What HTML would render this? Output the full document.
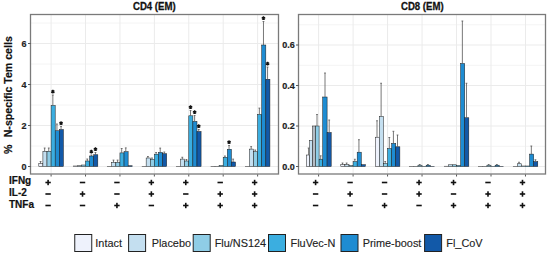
<!DOCTYPE html>
<html><head><meta charset="utf-8"><style>
html,body{margin:0;padding:0;background:#fff;}
body{width:550px;height:256px;overflow:hidden;}
svg{display:block;}
text{font-family:"Liberation Sans",sans-serif;}
.g{stroke:#EBEBEB;stroke-width:1;}
.gm{stroke:#F4F4F4;stroke-width:1;}
.b{stroke:#1a1a1a;stroke-width:0.5;}
.e{stroke:#555;stroke-width:0.8;}
.fr{fill:none;stroke:#7a7a7a;stroke-width:1.3;}
.tk{stroke:#444;stroke-width:0.9;}
.stp{stroke:#111;stroke-width:1.3;fill:none;}
.ti{font-size:9.6px;font-weight:bold;fill:#111;stroke:#111;stroke-width:0.25;}
.tl{font-size:9px;font-weight:bold;fill:#222;stroke:#222;stroke-width:0.2;}
.yt{font-size:10.6px;font-weight:bold;fill:#111;stroke:#111;stroke-width:0.2;}
.rl{font-size:10px;font-weight:bold;fill:#111;stroke:#111;stroke-width:0.2;}
.sg{fill:#111;}
.lk{stroke:#222;stroke-width:1;}
.lg{font-size:10.9px;fill:#222;stroke:#222;stroke-width:0.12;}
</style></head><body>
<svg width="550" height="256" viewBox="0 0 550 256">
<rect x="30" y="14" width="249" height="159.5" fill="#fff"/>
<line x1="30" y1="146.0" x2="279" y2="146.0" class="gm"/>
<line x1="30" y1="105.0" x2="279" y2="105.0" class="gm"/>
<line x1="30" y1="64.0" x2="279" y2="64.0" class="gm"/>
<line x1="30" y1="23.0" x2="279" y2="23.0" class="gm"/>
<line x1="30" y1="166.5" x2="279" y2="166.5" class="g"/>
<line x1="30" y1="125.5" x2="279" y2="125.5" class="g"/>
<line x1="30" y1="84.5" x2="279" y2="84.5" class="g"/>
<line x1="30" y1="43.5" x2="279" y2="43.5" class="g"/>
<line x1="51.10" y1="14" x2="51.10" y2="173.5" class="g"/>
<line x1="85.52" y1="14" x2="85.52" y2="173.5" class="g"/>
<line x1="119.94" y1="14" x2="119.94" y2="173.5" class="g"/>
<line x1="154.36" y1="14" x2="154.36" y2="173.5" class="g"/>
<line x1="188.78" y1="14" x2="188.78" y2="173.5" class="g"/>
<line x1="223.20" y1="14" x2="223.20" y2="173.5" class="g"/>
<line x1="257.62" y1="14" x2="257.62" y2="173.5" class="g"/>
<rect x="298" y="14" width="248" height="159.5" fill="#fff"/>
<line x1="298" y1="146.25" x2="546" y2="146.25" class="gm"/>
<line x1="298" y1="105.75" x2="546" y2="105.75" class="gm"/>
<line x1="298" y1="65.25" x2="546" y2="65.25" class="gm"/>
<line x1="298" y1="24.75" x2="546" y2="24.75" class="gm"/>
<line x1="298" y1="166.5" x2="546" y2="166.5" class="g"/>
<line x1="298" y1="126.0" x2="546" y2="126.0" class="g"/>
<line x1="298" y1="85.5" x2="546" y2="85.5" class="g"/>
<line x1="298" y1="45.0" x2="546" y2="45.0" class="g"/>
<line x1="318.60" y1="14" x2="318.60" y2="173.5" class="g"/>
<line x1="353.08" y1="14" x2="353.08" y2="173.5" class="g"/>
<line x1="387.56" y1="14" x2="387.56" y2="173.5" class="g"/>
<line x1="422.04" y1="14" x2="422.04" y2="173.5" class="g"/>
<line x1="456.52" y1="14" x2="456.52" y2="173.5" class="g"/>
<line x1="491.00" y1="14" x2="491.00" y2="173.5" class="g"/>
<line x1="525.48" y1="14" x2="525.48" y2="173.5" class="g"/>
<rect x="38.80" y="163.50" width="4.10" height="3.00" fill="#EEF2FC" class="b"/>
<rect x="42.90" y="151.25" width="4.10" height="15.25" fill="#C4DFF0" class="b"/>
<rect x="47.00" y="151.25" width="4.10" height="15.25" fill="#8FCDE6" class="b"/>
<rect x="51.10" y="105.50" width="4.10" height="61.00" fill="#3BAEE0" class="b"/>
<rect x="55.20" y="130.75" width="4.10" height="35.75" fill="#1E8CD2" class="b"/>
<rect x="59.30" y="129.50" width="4.10" height="37.00" fill="#1259A8" class="b"/>
<line x1="40.55" y1="163.50" x2="40.55" y2="161.50" class="e"/>
<line x1="39.65" y1="161.50" x2="41.45" y2="161.50" class="e"/>
<line x1="44.65" y1="151.25" x2="44.65" y2="148.00" class="e"/>
<line x1="43.75" y1="148.00" x2="45.55" y2="148.00" class="e"/>
<line x1="48.75" y1="151.25" x2="48.75" y2="148.00" class="e"/>
<line x1="47.85" y1="148.00" x2="49.65" y2="148.00" class="e"/>
<line x1="52.85" y1="105.50" x2="52.85" y2="95.00" class="e"/>
<line x1="51.95" y1="95.00" x2="53.75" y2="95.00" class="e"/>
<path d="M52.85 89.80L52.85 93.60M51.20 90.75L54.50 92.65M54.50 90.75L51.20 92.65" class="stp"/>
<line x1="56.95" y1="130.75" x2="56.95" y2="124.00" class="e"/>
<line x1="56.05" y1="124.00" x2="57.85" y2="124.00" class="e"/>
<line x1="61.05" y1="129.50" x2="61.05" y2="126.50" class="e"/>
<line x1="60.15" y1="126.50" x2="61.95" y2="126.50" class="e"/>
<path d="M61.05 121.30L61.05 125.10M59.40 122.25L62.70 124.15M62.70 122.25L59.40 124.15" class="stp"/>
<rect x="73.22" y="166.00" width="4.10" height="0.50" fill="#EEF2FC" class="b"/>
<rect x="77.32" y="165.75" width="4.10" height="0.75" fill="#C4DFF0" class="b"/>
<rect x="81.42" y="165.00" width="4.10" height="1.50" fill="#8FCDE6" class="b"/>
<rect x="85.52" y="161.00" width="4.10" height="5.50" fill="#3BAEE0" class="b"/>
<rect x="89.62" y="156.00" width="4.10" height="10.50" fill="#1E8CD2" class="b"/>
<rect x="93.72" y="154.75" width="4.10" height="11.75" fill="#1259A8" class="b"/>
<line x1="87.27" y1="161.00" x2="87.27" y2="159.00" class="e"/>
<line x1="86.37" y1="159.00" x2="88.17" y2="159.00" class="e"/>
<line x1="91.37" y1="156.00" x2="91.37" y2="155.00" class="e"/>
<line x1="90.47" y1="155.00" x2="92.27" y2="155.00" class="e"/>
<path d="M91.37 149.80L91.37 153.60M89.72 150.75L93.02 152.65M93.02 150.75L89.72 152.65" class="stp"/>
<line x1="95.47" y1="154.75" x2="95.47" y2="152.50" class="e"/>
<line x1="94.57" y1="152.50" x2="96.37" y2="152.50" class="e"/>
<path d="M95.47 147.30L95.47 151.10M93.82 148.25L97.12 150.15M97.12 148.25L93.82 150.15" class="stp"/>
<rect x="107.64" y="166.30" width="4.10" height="0.20" fill="#EEF2FC" class="b"/>
<rect x="111.74" y="162.40" width="4.10" height="4.10" fill="#C4DFF0" class="b"/>
<rect x="115.84" y="162.40" width="4.10" height="4.10" fill="#8FCDE6" class="b"/>
<rect x="119.94" y="152.90" width="4.10" height="13.60" fill="#3BAEE0" class="b"/>
<rect x="124.04" y="151.70" width="4.10" height="14.80" fill="#1E8CD2" class="b"/>
<rect x="128.14" y="165.75" width="4.10" height="0.75" fill="#1259A8" class="b"/>
<line x1="113.49" y1="162.40" x2="113.49" y2="160.10" class="e"/>
<line x1="112.59" y1="160.10" x2="114.39" y2="160.10" class="e"/>
<line x1="117.59" y1="162.40" x2="117.59" y2="160.10" class="e"/>
<line x1="116.69" y1="160.10" x2="118.49" y2="160.10" class="e"/>
<line x1="121.69" y1="152.90" x2="121.69" y2="148.50" class="e"/>
<line x1="120.79" y1="148.50" x2="122.59" y2="148.50" class="e"/>
<line x1="125.79" y1="151.70" x2="125.79" y2="147.90" class="e"/>
<line x1="124.89" y1="147.90" x2="126.69" y2="147.90" class="e"/>
<rect x="142.06" y="166.40" width="4.10" height="0.10" fill="#EEF2FC" class="b"/>
<rect x="146.16" y="158.00" width="4.10" height="8.50" fill="#C4DFF0" class="b"/>
<rect x="150.26" y="159.30" width="4.10" height="7.20" fill="#8FCDE6" class="b"/>
<rect x="154.36" y="154.20" width="4.10" height="12.30" fill="#3BAEE0" class="b"/>
<rect x="158.46" y="152.40" width="4.10" height="14.10" fill="#1E8CD2" class="b"/>
<rect x="162.56" y="153.70" width="4.10" height="12.80" fill="#1259A8" class="b"/>
<line x1="147.91" y1="158.00" x2="147.91" y2="156.50" class="e"/>
<line x1="147.01" y1="156.50" x2="148.81" y2="156.50" class="e"/>
<line x1="152.01" y1="159.30" x2="152.01" y2="158.00" class="e"/>
<line x1="151.11" y1="158.00" x2="152.91" y2="158.00" class="e"/>
<line x1="156.11" y1="154.20" x2="156.11" y2="152.50" class="e"/>
<line x1="155.21" y1="152.50" x2="157.01" y2="152.50" class="e"/>
<line x1="160.21" y1="152.40" x2="160.21" y2="148.10" class="e"/>
<line x1="159.31" y1="148.10" x2="161.11" y2="148.10" class="e"/>
<line x1="164.31" y1="153.70" x2="164.31" y2="152.00" class="e"/>
<line x1="163.41" y1="152.00" x2="165.21" y2="152.00" class="e"/>
<rect x="176.48" y="166.40" width="4.10" height="0.10" fill="#EEF2FC" class="b"/>
<rect x="180.58" y="159.10" width="4.10" height="7.40" fill="#C4DFF0" class="b"/>
<rect x="184.68" y="161.00" width="4.10" height="5.50" fill="#8FCDE6" class="b"/>
<rect x="188.78" y="115.80" width="4.10" height="50.70" fill="#3BAEE0" class="b"/>
<rect x="192.88" y="121.40" width="4.10" height="45.10" fill="#1E8CD2" class="b"/>
<rect x="196.98" y="131.50" width="4.10" height="35.00" fill="#1259A8" class="b"/>
<line x1="182.33" y1="159.10" x2="182.33" y2="157.25" class="e"/>
<line x1="181.43" y1="157.25" x2="183.23" y2="157.25" class="e"/>
<line x1="186.43" y1="161.00" x2="186.43" y2="159.50" class="e"/>
<line x1="185.53" y1="159.50" x2="187.33" y2="159.50" class="e"/>
<line x1="190.53" y1="115.80" x2="190.53" y2="110.50" class="e"/>
<line x1="189.63" y1="110.50" x2="191.43" y2="110.50" class="e"/>
<path d="M190.53 105.30L190.53 109.10M188.88 106.25L192.18 108.15M192.18 106.25L188.88 108.15" class="stp"/>
<line x1="194.63" y1="121.40" x2="194.63" y2="115.50" class="e"/>
<line x1="193.73" y1="115.50" x2="195.53" y2="115.50" class="e"/>
<path d="M194.63 110.30L194.63 114.10M192.98 111.25L196.28 113.15M196.28 111.25L192.98 113.15" class="stp"/>
<line x1="198.73" y1="131.50" x2="198.73" y2="129.50" class="e"/>
<line x1="197.83" y1="129.50" x2="199.63" y2="129.50" class="e"/>
<path d="M198.73 124.30L198.73 128.10M197.08 125.25L200.38 127.15M200.38 125.25L197.08 127.15" class="stp"/>
<rect x="210.90" y="166.40" width="4.10" height="0.10" fill="#EEF2FC" class="b"/>
<rect x="215.00" y="166.40" width="4.10" height="0.10" fill="#C4DFF0" class="b"/>
<rect x="219.10" y="165.40" width="4.10" height="1.10" fill="#8FCDE6" class="b"/>
<rect x="223.20" y="157.25" width="4.10" height="9.25" fill="#3BAEE0" class="b"/>
<rect x="227.30" y="149.25" width="4.10" height="17.25" fill="#1E8CD2" class="b"/>
<rect x="231.40" y="162.00" width="4.10" height="4.50" fill="#1259A8" class="b"/>
<line x1="224.95" y1="157.25" x2="224.95" y2="156.00" class="e"/>
<line x1="224.05" y1="156.00" x2="225.85" y2="156.00" class="e"/>
<line x1="229.05" y1="149.25" x2="229.05" y2="145.50" class="e"/>
<line x1="228.15" y1="145.50" x2="229.95" y2="145.50" class="e"/>
<path d="M229.05 140.30L229.05 144.10M227.40 141.25L230.70 143.15M230.70 141.25L227.40 143.15" class="stp"/>
<line x1="233.15" y1="162.00" x2="233.15" y2="159.10" class="e"/>
<line x1="232.25" y1="159.10" x2="234.05" y2="159.10" class="e"/>
<rect x="245.32" y="166.40" width="4.10" height="0.10" fill="#EEF2FC" class="b"/>
<rect x="249.42" y="149.10" width="4.10" height="17.40" fill="#C4DFF0" class="b"/>
<rect x="253.52" y="151.60" width="4.10" height="14.90" fill="#8FCDE6" class="b"/>
<rect x="257.62" y="114.40" width="4.10" height="52.10" fill="#3BAEE0" class="b"/>
<rect x="261.72" y="45.00" width="4.10" height="121.50" fill="#1E8CD2" class="b"/>
<rect x="265.82" y="79.25" width="4.10" height="87.25" fill="#1259A8" class="b"/>
<line x1="251.17" y1="149.10" x2="251.17" y2="146.60" class="e"/>
<line x1="250.27" y1="146.60" x2="252.07" y2="146.60" class="e"/>
<line x1="255.27" y1="151.60" x2="255.27" y2="150.00" class="e"/>
<line x1="254.37" y1="150.00" x2="256.17" y2="150.00" class="e"/>
<line x1="259.37" y1="114.40" x2="259.37" y2="108.10" class="e"/>
<line x1="258.47" y1="108.10" x2="260.27" y2="108.10" class="e"/>
<line x1="263.47" y1="45.00" x2="263.47" y2="21.50" class="e"/>
<line x1="262.57" y1="21.50" x2="264.37" y2="21.50" class="e"/>
<path d="M263.47 16.30L263.47 20.10M261.82 17.25L265.12 19.15M265.12 17.25L261.82 19.15" class="stp"/>
<line x1="267.57" y1="79.25" x2="267.57" y2="67.00" class="e"/>
<line x1="266.67" y1="67.00" x2="268.47" y2="67.00" class="e"/>
<path d="M267.57 61.80L267.57 65.60M265.92 62.75L269.22 64.65M269.22 62.75L265.92 64.65" class="stp"/>
<rect x="340.78" y="164.70" width="4.10" height="1.80" fill="#EEF2FC" class="b"/>
<rect x="344.88" y="164.70" width="4.10" height="1.80" fill="#C4DFF0" class="b"/>
<rect x="348.98" y="165.50" width="4.10" height="1.00" fill="#8FCDE6" class="b"/>
<rect x="353.08" y="161.60" width="4.10" height="4.90" fill="#3BAEE0" class="b"/>
<rect x="357.18" y="152.20" width="4.10" height="14.30" fill="#1E8CD2" class="b"/>
<rect x="361.28" y="164.70" width="4.10" height="1.80" fill="#1259A8" class="b"/>
<line x1="342.53" y1="164.70" x2="342.53" y2="163.00" class="e"/>
<line x1="341.63" y1="163.00" x2="343.43" y2="163.00" class="e"/>
<line x1="346.63" y1="164.70" x2="346.63" y2="163.00" class="e"/>
<line x1="345.73" y1="163.00" x2="347.53" y2="163.00" class="e"/>
<line x1="354.83" y1="161.60" x2="354.83" y2="159.25" class="e"/>
<line x1="353.93" y1="159.25" x2="355.73" y2="159.25" class="e"/>
<line x1="358.93" y1="152.20" x2="358.93" y2="139.70" class="e"/>
<line x1="358.03" y1="139.70" x2="359.83" y2="139.70" class="e"/>
<rect x="375.26" y="137.20" width="4.10" height="29.30" fill="#EEF2FC" class="b"/>
<rect x="379.36" y="116.40" width="4.10" height="50.10" fill="#C4DFF0" class="b"/>
<rect x="383.46" y="163.50" width="4.10" height="3.00" fill="#8FCDE6" class="b"/>
<rect x="387.56" y="148.50" width="4.10" height="18.00" fill="#3BAEE0" class="b"/>
<rect x="391.66" y="143.40" width="4.10" height="23.10" fill="#1E8CD2" class="b"/>
<rect x="395.76" y="146.80" width="4.10" height="19.70" fill="#1259A8" class="b"/>
<line x1="377.01" y1="137.20" x2="377.01" y2="120.75" class="e"/>
<line x1="376.11" y1="120.75" x2="377.91" y2="120.75" class="e"/>
<line x1="381.11" y1="116.40" x2="381.11" y2="83.25" class="e"/>
<line x1="380.21" y1="83.25" x2="382.01" y2="83.25" class="e"/>
<line x1="385.21" y1="163.50" x2="385.21" y2="161.50" class="e"/>
<line x1="384.31" y1="161.50" x2="386.11" y2="161.50" class="e"/>
<line x1="389.31" y1="148.50" x2="389.31" y2="137.50" class="e"/>
<line x1="388.41" y1="137.50" x2="390.21" y2="137.50" class="e"/>
<line x1="393.41" y1="143.40" x2="393.41" y2="131.30" class="e"/>
<line x1="392.51" y1="131.30" x2="394.31" y2="131.30" class="e"/>
<line x1="397.51" y1="146.80" x2="397.51" y2="135.00" class="e"/>
<line x1="396.61" y1="135.00" x2="398.41" y2="135.00" class="e"/>
<rect x="409.74" y="166.30" width="4.10" height="0.20" fill="#EEF2FC" class="b"/>
<rect x="413.84" y="166.30" width="4.10" height="0.20" fill="#C4DFF0" class="b"/>
<rect x="417.94" y="165.20" width="4.10" height="1.30" fill="#8FCDE6" class="b"/>
<rect x="422.04" y="166.30" width="4.10" height="0.20" fill="#3BAEE0" class="b"/>
<rect x="426.14" y="165.20" width="4.10" height="1.30" fill="#1E8CD2" class="b"/>
<rect x="430.24" y="166.30" width="4.10" height="0.20" fill="#1259A8" class="b"/>
<line x1="419.69" y1="165.20" x2="419.69" y2="164.50" class="e"/>
<line x1="418.79" y1="164.50" x2="420.59" y2="164.50" class="e"/>
<line x1="427.89" y1="165.20" x2="427.89" y2="164.50" class="e"/>
<line x1="426.99" y1="164.50" x2="428.79" y2="164.50" class="e"/>
<rect x="444.22" y="166.20" width="4.10" height="0.30" fill="#EEF2FC" class="b"/>
<rect x="448.32" y="164.80" width="4.10" height="1.70" fill="#C4DFF0" class="b"/>
<rect x="452.42" y="164.80" width="4.10" height="1.70" fill="#8FCDE6" class="b"/>
<rect x="456.52" y="165.60" width="4.10" height="0.90" fill="#3BAEE0" class="b"/>
<rect x="460.62" y="63.50" width="4.10" height="103.00" fill="#1E8CD2" class="b"/>
<rect x="464.72" y="117.75" width="4.10" height="48.75" fill="#1259A8" class="b"/>
<line x1="462.37" y1="63.50" x2="462.37" y2="21.00" class="e"/>
<line x1="461.47" y1="21.00" x2="463.27" y2="21.00" class="e"/>
<line x1="466.47" y1="117.75" x2="466.47" y2="83.25" class="e"/>
<line x1="465.57" y1="83.25" x2="467.37" y2="83.25" class="e"/>
<rect x="478.70" y="166.30" width="4.10" height="0.20" fill="#EEF2FC" class="b"/>
<rect x="482.80" y="166.30" width="4.10" height="0.20" fill="#C4DFF0" class="b"/>
<rect x="486.90" y="165.20" width="4.10" height="1.30" fill="#8FCDE6" class="b"/>
<rect x="491.00" y="166.30" width="4.10" height="0.20" fill="#3BAEE0" class="b"/>
<rect x="495.10" y="165.20" width="4.10" height="1.30" fill="#1E8CD2" class="b"/>
<rect x="499.20" y="166.30" width="4.10" height="0.20" fill="#1259A8" class="b"/>
<line x1="488.65" y1="165.20" x2="488.65" y2="164.50" class="e"/>
<line x1="487.75" y1="164.50" x2="489.55" y2="164.50" class="e"/>
<line x1="496.85" y1="165.20" x2="496.85" y2="164.50" class="e"/>
<line x1="495.95" y1="164.50" x2="497.75" y2="164.50" class="e"/>
<rect x="513.18" y="166.30" width="4.10" height="0.20" fill="#EEF2FC" class="b"/>
<rect x="517.28" y="163.75" width="4.10" height="2.75" fill="#C4DFF0" class="b"/>
<rect x="521.38" y="166.00" width="4.10" height="0.50" fill="#8FCDE6" class="b"/>
<rect x="525.48" y="166.00" width="4.10" height="0.50" fill="#3BAEE0" class="b"/>
<rect x="529.58" y="154.10" width="4.10" height="12.40" fill="#1E8CD2" class="b"/>
<rect x="533.68" y="161.60" width="4.10" height="4.90" fill="#1259A8" class="b"/>
<line x1="519.03" y1="163.75" x2="519.03" y2="162.25" class="e"/>
<line x1="518.13" y1="162.25" x2="519.93" y2="162.25" class="e"/>
<line x1="531.33" y1="154.10" x2="531.33" y2="146.00" class="e"/>
<line x1="530.43" y1="146.00" x2="532.23" y2="146.00" class="e"/>
<line x1="535.43" y1="161.60" x2="535.43" y2="159.75" class="e"/>
<line x1="534.53" y1="159.75" x2="536.33" y2="159.75" class="e"/>
<rect x="306.30" y="155.00" width="3.30" height="11.50" fill="#EEF2FC" class="b"/>
<rect x="309.60" y="140.30" width="3.00" height="26.20" fill="#C4DFF0" class="b"/>
<rect x="312.60" y="126.00" width="3.00" height="40.50" fill="#B4BCC4" class="b"/>
<rect x="315.60" y="126.00" width="3.50" height="40.50" fill="#8FCDE6" class="b"/>
<rect x="319.10" y="159.20" width="3.60" height="7.30" fill="#3BAEE0" class="b"/>
<rect x="322.70" y="97.00" width="4.40" height="69.50" fill="#1E8CD2" class="b"/>
<rect x="327.10" y="132.50" width="4.10" height="34.00" fill="#1259A8" class="b"/>
<line x1="308.60" y1="155.00" x2="308.60" y2="148.00" class="e"/>
<line x1="307.70" y1="148.00" x2="309.50" y2="148.00" class="e"/>
<line x1="317.00" y1="126.00" x2="317.00" y2="114.50" class="e"/>
<line x1="316.10" y1="114.50" x2="317.90" y2="114.50" class="e"/>
<line x1="320.70" y1="159.20" x2="320.70" y2="155.80" class="e"/>
<line x1="319.80" y1="155.80" x2="321.60" y2="155.80" class="e"/>
<line x1="325.00" y1="97.00" x2="325.00" y2="73.00" class="e"/>
<line x1="324.10" y1="73.00" x2="325.90" y2="73.00" class="e"/>
<line x1="329.20" y1="132.50" x2="329.20" y2="120.00" class="e"/>
<line x1="328.30" y1="120.00" x2="330.10" y2="120.00" class="e"/>
<rect x="30.5" y="14.5" width="248" height="159.5" class="fr"/>
<line x1="51.10" y1="174.5" x2="51.10" y2="176.5" class="tk"/>
<line x1="85.52" y1="174.5" x2="85.52" y2="176.5" class="tk"/>
<line x1="119.94" y1="174.5" x2="119.94" y2="176.5" class="tk"/>
<line x1="154.36" y1="174.5" x2="154.36" y2="176.5" class="tk"/>
<line x1="188.78" y1="174.5" x2="188.78" y2="176.5" class="tk"/>
<line x1="223.20" y1="174.5" x2="223.20" y2="176.5" class="tk"/>
<line x1="257.62" y1="174.5" x2="257.62" y2="176.5" class="tk"/>
<line x1="28" y1="166.5" x2="30.5" y2="166.5" class="tk"/>
<line x1="28" y1="125.5" x2="30.5" y2="125.5" class="tk"/>
<line x1="28" y1="84.5" x2="30.5" y2="84.5" class="tk"/>
<line x1="28" y1="43.5" x2="30.5" y2="43.5" class="tk"/>
<rect x="298.5" y="14.5" width="247" height="159.5" class="fr"/>
<line x1="318.60" y1="174.5" x2="318.60" y2="176.5" class="tk"/>
<line x1="353.08" y1="174.5" x2="353.08" y2="176.5" class="tk"/>
<line x1="387.56" y1="174.5" x2="387.56" y2="176.5" class="tk"/>
<line x1="422.04" y1="174.5" x2="422.04" y2="176.5" class="tk"/>
<line x1="456.52" y1="174.5" x2="456.52" y2="176.5" class="tk"/>
<line x1="491.00" y1="174.5" x2="491.00" y2="176.5" class="tk"/>
<line x1="525.48" y1="174.5" x2="525.48" y2="176.5" class="tk"/>
<line x1="296" y1="166.5" x2="298.5" y2="166.5" class="tk"/>
<line x1="296" y1="126.0" x2="298.5" y2="126.0" class="tk"/>
<line x1="296" y1="85.5" x2="298.5" y2="85.5" class="tk"/>
<line x1="296" y1="45.0" x2="298.5" y2="45.0" class="tk"/>
<text transform="translate(154.3,10.1) scale(1,1.1)" class="ti" text-anchor="middle">CD4 (EM)</text>
<text transform="translate(422.3,10.1) scale(1,1.1)" class="ti" text-anchor="middle">CD8 (EM)</text>
<text x="26.6" y="169.50" class="tl" text-anchor="end">0</text>
<text x="26.6" y="128.50" class="tl" text-anchor="end">2</text>
<text x="26.6" y="87.50" class="tl" text-anchor="end">4</text>
<text x="26.6" y="46.50" class="tl" text-anchor="end">6</text>
<text x="294.8" y="169.50" class="tl" text-anchor="end">0.0</text>
<text x="294.8" y="129.00" class="tl" text-anchor="end">0.2</text>
<text x="294.8" y="88.50" class="tl" text-anchor="end">0.4</text>
<text x="294.8" y="48.00" class="tl" text-anchor="end">0.6</text>
<text transform="translate(12.4,137.3) rotate(-90)" class="yt">N-specific Tem cells</text>
<text transform="translate(12.4,154.0) rotate(-90)" class="yt">%</text>
<text x="9" y="184" class="rl">IFNg</text>
<text x="9" y="196" class="rl">IL-2</text>
<text x="9" y="208" class="rl">TNFa</text>
<rect x="45.40" y="181.70" width="5.4" height="1.6" class="sg"/>
<rect x="47.30" y="179.80" width="1.6" height="5.4" class="sg"/>
<rect x="45.40" y="193.20" width="5.4" height="1.6" class="sg"/>
<rect x="45.40" y="204.70" width="5.4" height="1.6" class="sg"/>
<rect x="79.82" y="181.70" width="5.4" height="1.6" class="sg"/>
<rect x="79.82" y="193.20" width="5.4" height="1.6" class="sg"/>
<rect x="81.72" y="191.30" width="1.6" height="5.4" class="sg"/>
<rect x="79.82" y="204.70" width="5.4" height="1.6" class="sg"/>
<rect x="114.24" y="181.70" width="5.4" height="1.6" class="sg"/>
<rect x="114.24" y="193.20" width="5.4" height="1.6" class="sg"/>
<rect x="114.24" y="204.70" width="5.4" height="1.6" class="sg"/>
<rect x="116.14" y="202.80" width="1.6" height="5.4" class="sg"/>
<rect x="148.66" y="181.70" width="5.4" height="1.6" class="sg"/>
<rect x="150.56" y="179.80" width="1.6" height="5.4" class="sg"/>
<rect x="148.66" y="193.20" width="5.4" height="1.6" class="sg"/>
<rect x="150.56" y="191.30" width="1.6" height="5.4" class="sg"/>
<rect x="148.66" y="204.70" width="5.4" height="1.6" class="sg"/>
<rect x="183.08" y="181.70" width="5.4" height="1.6" class="sg"/>
<rect x="184.98" y="179.80" width="1.6" height="5.4" class="sg"/>
<rect x="183.08" y="193.20" width="5.4" height="1.6" class="sg"/>
<rect x="183.08" y="204.70" width="5.4" height="1.6" class="sg"/>
<rect x="184.98" y="202.80" width="1.6" height="5.4" class="sg"/>
<rect x="217.50" y="181.70" width="5.4" height="1.6" class="sg"/>
<rect x="217.50" y="193.20" width="5.4" height="1.6" class="sg"/>
<rect x="219.40" y="191.30" width="1.6" height="5.4" class="sg"/>
<rect x="217.50" y="204.70" width="5.4" height="1.6" class="sg"/>
<rect x="219.40" y="202.80" width="1.6" height="5.4" class="sg"/>
<rect x="251.92" y="181.70" width="5.4" height="1.6" class="sg"/>
<rect x="253.82" y="179.80" width="1.6" height="5.4" class="sg"/>
<rect x="251.92" y="193.20" width="5.4" height="1.6" class="sg"/>
<rect x="253.82" y="191.30" width="1.6" height="5.4" class="sg"/>
<rect x="251.92" y="204.70" width="5.4" height="1.6" class="sg"/>
<rect x="253.82" y="202.80" width="1.6" height="5.4" class="sg"/>
<rect x="312.90" y="181.70" width="5.4" height="1.6" class="sg"/>
<rect x="314.80" y="179.80" width="1.6" height="5.4" class="sg"/>
<rect x="312.90" y="193.20" width="5.4" height="1.6" class="sg"/>
<rect x="312.90" y="204.70" width="5.4" height="1.6" class="sg"/>
<rect x="347.38" y="181.70" width="5.4" height="1.6" class="sg"/>
<rect x="347.38" y="193.20" width="5.4" height="1.6" class="sg"/>
<rect x="349.28" y="191.30" width="1.6" height="5.4" class="sg"/>
<rect x="347.38" y="204.70" width="5.4" height="1.6" class="sg"/>
<rect x="381.86" y="181.70" width="5.4" height="1.6" class="sg"/>
<rect x="381.86" y="193.20" width="5.4" height="1.6" class="sg"/>
<rect x="381.86" y="204.70" width="5.4" height="1.6" class="sg"/>
<rect x="383.76" y="202.80" width="1.6" height="5.4" class="sg"/>
<rect x="416.34" y="181.70" width="5.4" height="1.6" class="sg"/>
<rect x="418.24" y="179.80" width="1.6" height="5.4" class="sg"/>
<rect x="416.34" y="193.20" width="5.4" height="1.6" class="sg"/>
<rect x="418.24" y="191.30" width="1.6" height="5.4" class="sg"/>
<rect x="416.34" y="204.70" width="5.4" height="1.6" class="sg"/>
<rect x="450.82" y="181.70" width="5.4" height="1.6" class="sg"/>
<rect x="452.72" y="179.80" width="1.6" height="5.4" class="sg"/>
<rect x="450.82" y="193.20" width="5.4" height="1.6" class="sg"/>
<rect x="450.82" y="204.70" width="5.4" height="1.6" class="sg"/>
<rect x="452.72" y="202.80" width="1.6" height="5.4" class="sg"/>
<rect x="485.30" y="181.70" width="5.4" height="1.6" class="sg"/>
<rect x="485.30" y="193.20" width="5.4" height="1.6" class="sg"/>
<rect x="487.20" y="191.30" width="1.6" height="5.4" class="sg"/>
<rect x="485.30" y="204.70" width="5.4" height="1.6" class="sg"/>
<rect x="487.20" y="202.80" width="1.6" height="5.4" class="sg"/>
<rect x="519.78" y="181.70" width="5.4" height="1.6" class="sg"/>
<rect x="521.68" y="179.80" width="1.6" height="5.4" class="sg"/>
<rect x="519.78" y="193.20" width="5.4" height="1.6" class="sg"/>
<rect x="521.68" y="191.30" width="1.6" height="5.4" class="sg"/>
<rect x="519.78" y="204.70" width="5.4" height="1.6" class="sg"/>
<rect x="521.68" y="202.80" width="1.6" height="5.4" class="sg"/>
<rect x="74.75" y="234.5" width="17" height="17" fill="#EEF2FC" class="lk"/>
<text x="95.30" y="247.2" class="lg">Intact</text>
<rect x="128.60" y="234.5" width="17" height="17" fill="#C4DFF0" class="lk"/>
<text x="151.65" y="247.2" class="lg">Placebo</text>
<rect x="193.20" y="234.5" width="17" height="17" fill="#8FCDE6" class="lk"/>
<text x="214.65" y="247.2" class="lg">Flu/NS124</text>
<rect x="268.50" y="234.5" width="17" height="17" fill="#3BAEE0" class="lk"/>
<text x="290.50" y="247.2" class="lg">FluVec-N</text>
<rect x="341.00" y="234.5" width="17" height="17" fill="#1E8CD2" class="lk"/>
<text x="362.65" y="247.2" class="lg">Prime-boost</text>
<rect x="424.60" y="234.5" width="17" height="17" fill="#1259A8" class="lk"/>
<text x="446.30" y="247.2" class="lg">Fl_CoV</text>
</svg>
</body></html>
